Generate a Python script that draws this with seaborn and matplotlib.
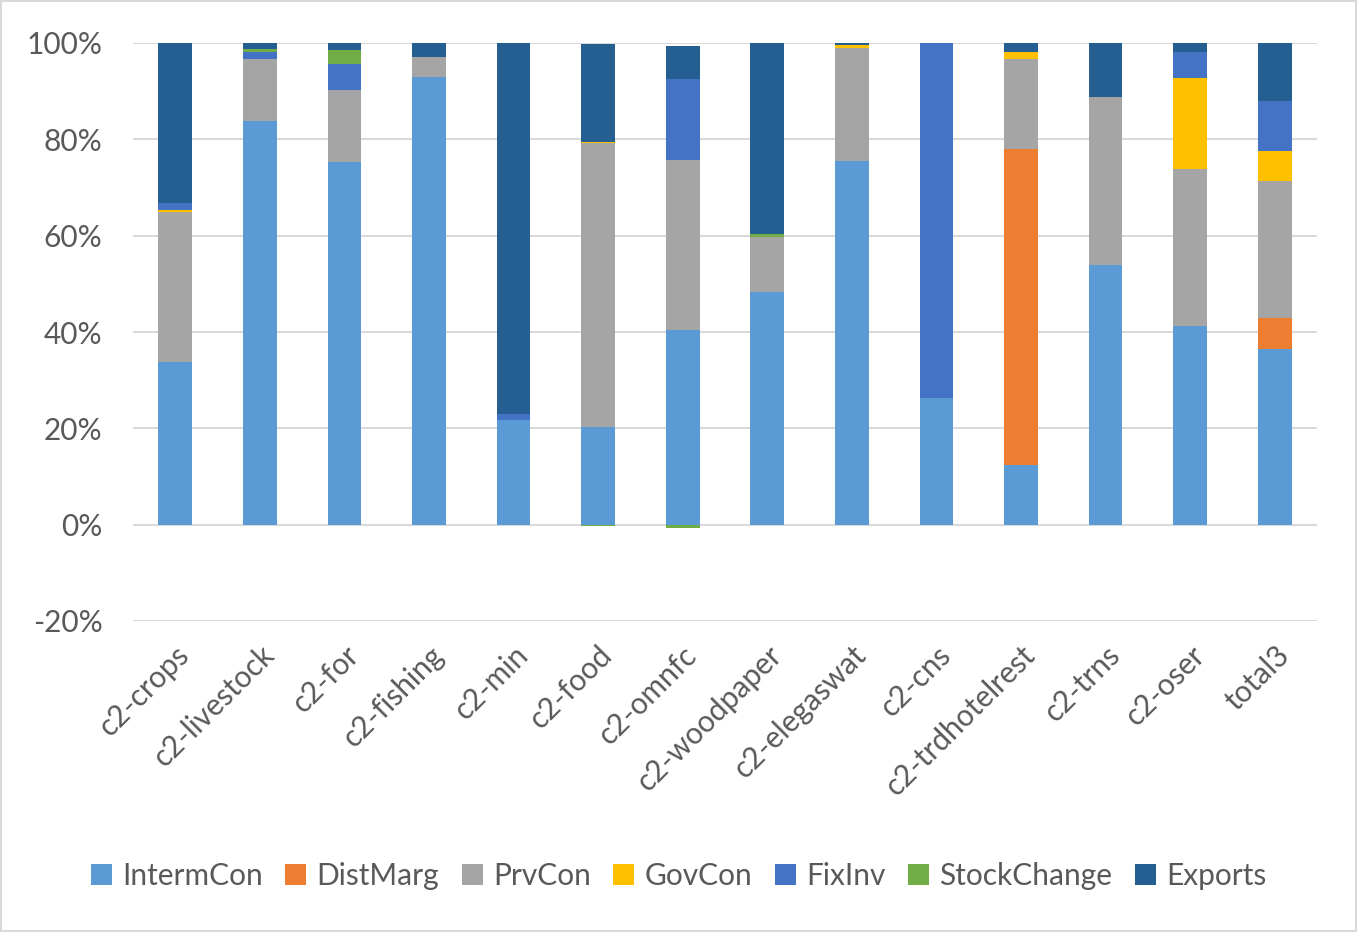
import numpy as np
import pandas as pd
import seaborn as sns
import matplotlib.pyplot as plt
from matplotlib.patches import Rectangle

# Categories and shares (%)
categories = ["c2-crops", "c2-livestock", "c2-for", "c2-fishing", "c2-min", "c2-food",
              "c2-omnfc", "c2-woodpaper", "c2-elegaswat", "c2-cns", "c2-trdhotelrest",
              "c2-trns", "c2-oser", "total3"]

interm_con = [33.7, 83.8, 75.3, 92.9, 21.8, 20.3, 40.5, 48.4, 75.5, 26.3, 12.4, 53.9, 41.3, 36.5]
dist_marg = [0, 0, 0, 0, 0, 0, 0, 0, 0, 0, 65.6, 0, 0, 6.5]
prv_con = [31.2, 12.8, 14.9, 4.2, 0, 59.0, 35.2, 11.4, 23.5, 0, 18.7, 34.9, 32.6, 28.4]
gov_con = [0.4, 0, 0, 0, 0, 0.1, 0, 0, 0.6, 0, 1.5, 0, 18.9, 6.2]
fix_inv = [1.4, 1.6, 5.5, 0, 1.2, 0, 16.8, 0, 0, 73.7, 0, 0, 5.4, 10.4]
stock_change = [0.1, 0.5, 2.8, 0, 0, -0.3, -0.7, 0.5, 0, 0, 0, 0, 0, 0]
exports = [33.2, 1.3, 1.5, 2.9, 77.0, 20.3, 6.8, 39.6, 0.4, 0, 1.8, 11.2, 1.8, 11.9]

series_names = ["IntermCon", "DistMarg", "PrvCon", "GovCon", "FixInv", "StockChange", "Exports"]
series_values = [interm_con, dist_marg, prv_con, gov_con, fix_inv, stock_change, exports]
series_colors = ["#5B9BD5", "#ED7D31", "#A5A5A5", "#FFC000", "#4472C4", "#70AD47", "#255E91"]

TEXT_COLOR = "#595959"
FONT_SIZE = 21.5

sns.set_theme(style="white")
plt.rcParams['font.family'] = ['Lato', 'DejaVu Sans']

fig = plt.figure(figsize=(13.57, 9.32), dpi=100)
ax = fig.add_axes([133 / 1357, 1 - 621 / 932, (1317 - 133) / 1357, (621 - 43) / 932])

# stack positives upward and negatives downward from zero
pos_base = np.zeros(len(categories))
neg_base = np.zeros(len(categories))
for name, vals, color in zip(series_names, series_values, series_colors):
    vals = np.array(vals, dtype=float)
    bottom = np.where(vals >= 0, pos_base, neg_base)
    df = pd.DataFrame({"cat": categories, "val": vals})
    sns.barplot(data=df, x="cat", y="val", bottom=bottom, color=color, saturation=1,
                width=0.4, label=name, ax=ax, linewidth=0)
    pos_base = pos_base + np.clip(vals, 0, None)
    neg_base = neg_base + np.clip(vals, None, 0)

ax.set_ylim(-20, 100)
ax.set_xlim(-0.5, len(categories) - 0.5)
yticks = [-20, 0, 20, 40, 60, 80, 100]
ax.set_yticks(yticks)
ax.set_yticklabels([f"{t}%" for t in yticks], fontsize=FONT_SIZE, color=TEXT_COLOR)
ax.set_xticks(range(len(categories)))
ax.set_xticklabels(categories, rotation=45, ha="right", rotation_mode="anchor",
                   fontsize=FONT_SIZE, color=TEXT_COLOR)
ax.tick_params(axis="y", length=0, pad=22)
ax.tick_params(axis="x", length=0, pad=14)
ax.set_xlabel("")
ax.set_ylabel("")
ax.yaxis.grid(True, color="#D9D9D9", linewidth=1.5)
ax.set_axisbelow(True)
for s in ax.spines.values():
    s.set_visible(False)

handles, labels = ax.get_legend_handles_labels()
if ax.legend_:
    ax.legend_.remove()
fig.legend(handles, labels, loc="center", bbox_to_anchor=(0.5, 1 - 876 / 932), ncol=7,
           frameon=False, fontsize=FONT_SIZE, handlelength=0.7, handleheight=0.7,
           handletextpad=0.35, columnspacing=0.75, labelcolor=TEXT_COLOR)

# light border around the whole chart
fig.patches.append(Rectangle((0.001, 0.001), 0.998, 0.998, transform=fig.transFigure,
                             fill=False, edgecolor="#D9D9D9", linewidth=1.5))

fig.savefig("out.png", dpi=100)
